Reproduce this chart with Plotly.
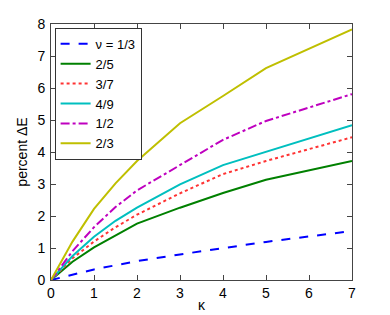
import plotly.graph_objects as go

kappa = [0, 0.5, 1, 1.5, 2, 3, 4, 5, 7]
nu_1_3 = [0, 0.17, 0.33, 0.46, 0.59, 0.80, 1.00, 1.19, 1.53]
nu_2_5 = [0, 0.57, 1.02, 1.40, 1.76, 2.26, 2.72, 3.13, 3.72]
nu_3_7 = [0, 0.68, 1.20, 1.65, 2.04, 2.71, 3.31, 3.72, 4.46]
nu_4_9 = [0, 0.75, 1.35, 1.85, 2.26, 2.99, 3.59, 4.01, 4.84]
nu_1_2 = [0, 0.90, 1.65, 2.28, 2.80, 3.60, 4.38, 4.97, 5.81]
nu_2_3 = [0, 1.20, 2.22, 3.02, 3.72, 4.90, 5.75, 6.62, 7.83]

labels = ["\u03bd = 1/3", "2/5", "3/7", "4/9", "1/2", "2/3"]
series = [nu_1_3, nu_2_5, nu_3_7, nu_4_9, nu_1_2, nu_2_3]
colors = ["#0000ff", "#008000", "#ff3333", "#00bfbf", "#bf00bf", "#bfbf00"]
dashes = ["dash", "solid", "dot", "solid", "dashdot", "solid"]

fig = go.Figure()
for lab, ys, c, d in zip(labels, series, colors, dashes):
    fig.add_trace(go.Scatter(x=kappa, y=ys, mode="lines", name=lab,
                             line=dict(color=c, dash=d, width=2)))

axis_common = dict(showline=True, linecolor="#444444", linewidth=1, mirror="ticks",
                   ticks="inside", ticklen=5, tickcolor="#444444", showgrid=False,
                   zeroline=False, automargin=False,
                   tickfont=dict(size=14, color="black"))

# page body has an 8px default margin, so the figure is offset by (8, 8)
fig.update_layout(
    width=382, height=307,
    margin=dict(l=43, r=38, t=16, b=35, autoexpand=False),
    paper_bgcolor="white", plot_bgcolor="white",
    font=dict(family="Liberation Sans, Arial, sans-serif", color="black", size=14),
    xaxis=dict(range=[0, 7], tickvals=[0, 1, 2, 3, 4, 5, 6, 7], ticklabelstandoff=0,
               title=dict(text="\u03ba", standoff=0, font=dict(size=14)), **axis_common),
    yaxis=dict(range=[0, 8], tickvals=[0, 1, 2, 3, 4, 5, 6, 7, 8], ticklabelstandoff=2,
               title=dict(text="percent \u0394E", standoff=6, font=dict(size=14)), **axis_common),
    legend=dict(x=0.012, y=0.985, xanchor="left", yanchor="top", bgcolor="white",
                bordercolor="#333333", borderwidth=1, font=dict(size=13),
                tracegroupgap=0, itemwidth=30),
    showlegend=True,
)

fig.write_html("out.html")
